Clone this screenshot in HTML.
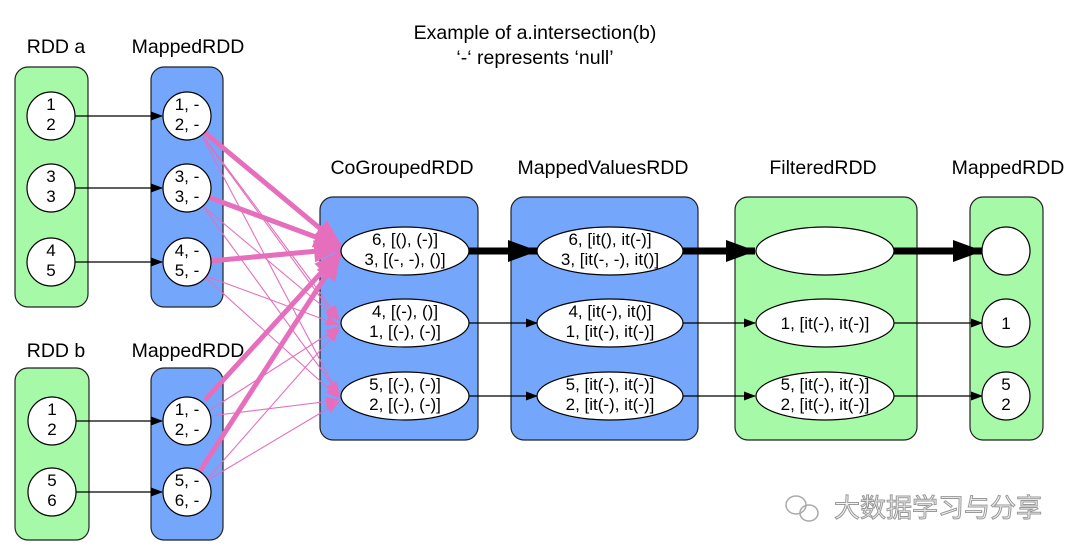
<!DOCTYPE html>
<html><head><meta charset="utf-8"><style>
html,body{margin:0;padding:0;background:#fff;}
svg{display:block;font-family:"Liberation Sans","Noto Sans CJK SC",sans-serif;}
</style></head><body>
<svg width="1080" height="554" viewBox="0 0 1080 554" xmlns="http://www.w3.org/2000/svg">
<defs>
<marker id="a" markerWidth="12" markerHeight="9" refX="11" refY="4.5" orient="auto" markerUnits="userSpaceOnUse"><path d="M0,0L12,4.5L0,9z" fill="#000"/></marker>
<marker id="ab" markerWidth="30" markerHeight="22" refX="29" refY="11" orient="auto" markerUnits="userSpaceOnUse"><path d="M0,0L30,11L0,22z" fill="#000"/></marker>
<marker id="p" markerWidth="14" markerHeight="10" refX="13" refY="5" orient="auto" markerUnits="userSpaceOnUse"><path d="M0,0L14,5L0,10z" fill="#e56fbd"/></marker>
<marker id="pb" markerWidth="28" markerHeight="22" refX="26" refY="11" orient="auto" markerUnits="userSpaceOnUse"><path d="M0,0L28,11L0,22z" fill="#e56fbd"/></marker>
</defs>
<g font-size="19.5" text-anchor="middle" fill="#000">
<text x="535" y="39">Example of a.intersection(b)</text>
<text x="535" y="64">‘-‘ represents ‘null’</text>
<text x="56" y="53">RDD a</text>
<text x="188" y="53">MappedRDD</text>
<text x="56" y="357">RDD b</text>
<text x="188" y="357">MappedRDD</text>
<text x="402" y="174">CoGroupedRDD</text>
<text x="603" y="174">MappedValuesRDD</text>
<text x="823" y="174">FilteredRDD</text>
<text x="1008" y="174">MappedRDD</text>
</g>
<g stroke="#222" stroke-width="1.2">
<rect x="15" y="67" width="73" height="240" rx="13" fill="#a6f9a6"/>
<rect x="151" y="67" width="72" height="240" rx="13" fill="#74a7fc"/>
<rect x="15" y="368" width="74" height="172" rx="13" fill="#a6f9a6"/>
<rect x="151" y="368" width="72" height="172" rx="13" fill="#74a7fc"/>
<rect x="320" y="197" width="158" height="243" rx="13" fill="#74a7fc"/>
<rect x="511" y="197" width="187" height="243" rx="13" fill="#74a7fc"/>
<rect x="735" y="197" width="182" height="243" rx="13" fill="#a6f9a6"/>
<rect x="970" y="197" width="73" height="243" rx="13" fill="#a6f9a6"/>
</g>
<g stroke="#000" stroke-width="1.3" fill="none">
<line x1="75" y1="116" x2="162" y2="116" marker-end="url(#a)"/>
<line x1="75" y1="188" x2="162" y2="188" marker-end="url(#a)"/>
<line x1="75" y1="262" x2="162" y2="262" marker-end="url(#a)"/>
<line x1="76" y1="421" x2="162" y2="421" marker-end="url(#a)"/>
<line x1="76" y1="492" x2="162" y2="492" marker-end="url(#a)"/>
<line x1="469" y1="323" x2="537" y2="323" marker-end="url(#a)"/>
<line x1="469" y1="396" x2="537" y2="396" marker-end="url(#a)"/>
<line x1="683" y1="323" x2="755" y2="323" marker-end="url(#a)"/>
<line x1="683" y1="396" x2="755" y2="396" marker-end="url(#a)"/>
<line x1="894" y1="323" x2="982" y2="323" marker-end="url(#a)"/>
<line x1="894" y1="396" x2="982" y2="396" marker-end="url(#a)"/>
<line x1="469" y1="251" x2="537" y2="251" stroke-width="7" marker-end="url(#ab)"/>
<line x1="683" y1="251" x2="755" y2="251" stroke-width="7" marker-end="url(#ab)"/>
<line x1="894" y1="251" x2="982" y2="251" stroke-width="7" marker-end="url(#ab)"/>
</g>
<g stroke="#e56fbd" stroke-width="1.1" fill="none" marker-end="url(#p)">
<line x1="203" y1="136" x2="339" y2="318"/>
<line x1="203" y1="138" x2="339" y2="396"/>
<line x1="206" y1="141" x2="337" y2="320"/>
<line x1="204" y1="207" x2="339" y2="320"/>
<line x1="204" y1="208" x2="339" y2="394"/>
<line x1="206" y1="276" x2="339" y2="325"/>
<line x1="206" y1="278" x2="339" y2="398"/>
<line x1="210" y1="410" x2="339" y2="327"/>
<line x1="210" y1="416" x2="339" y2="400"/>
<line x1="208" y1="478" x2="339" y2="329"/>
<line x1="208" y1="480" x2="339" y2="402"/>
</g>
<g stroke="#e56fbd" stroke-width="5" fill="none" marker-end="url(#pb)">
<line x1="204" y1="132" x2="340" y2="245"/>
<line x1="208" y1="197" x2="340" y2="246"/>
<line x1="210" y1="261" x2="340" y2="249"/>
<line x1="205" y1="400" x2="340" y2="252"/>
<line x1="200" y1="471" x2="340" y2="254"/>
</g>
<g stroke="#000" stroke-width="1.2" fill="#fff">
<circle cx="51" cy="116" r="24"/><circle cx="51" cy="188" r="24"/><circle cx="51" cy="262" r="24"/>
<circle cx="187" cy="116" r="24"/><circle cx="187" cy="188" r="24"/><circle cx="187" cy="262" r="24"/>
<circle cx="52" cy="421" r="24"/><circle cx="52" cy="492" r="24"/>
<circle cx="187" cy="421" r="24"/><circle cx="187" cy="492" r="24"/>
<ellipse cx="405" cy="251" rx="64" ry="24"/><ellipse cx="405" cy="323" rx="64" ry="24"/><ellipse cx="405" cy="396" rx="64" ry="24"/>
<ellipse cx="610" cy="251" rx="73" ry="24"/><ellipse cx="610" cy="323" rx="73" ry="24"/><ellipse cx="610" cy="396" rx="73" ry="24"/>
<ellipse cx="825" cy="251" rx="69" ry="24"/><ellipse cx="825" cy="323" rx="69" ry="24"/><ellipse cx="825" cy="396" rx="69" ry="24"/>
<circle cx="1006" cy="251" r="24"/><circle cx="1006" cy="323" r="24"/><circle cx="1006" cy="396" r="24"/>
</g>
<g font-size="17" text-anchor="middle" fill="#000">
<text x="51" y="110">1</text><text x="51" y="130">2</text>
<text x="51" y="182">3</text><text x="51" y="202">3</text>
<text x="51" y="256">4</text><text x="51" y="276">5</text>
<text x="52" y="415">1</text><text x="52" y="435">2</text>
<text x="52" y="486">5</text><text x="52" y="506">6</text>
<text x="187" y="110">1, -</text><text x="187" y="130">2, -</text>
<text x="187" y="182">3, -</text><text x="187" y="202">3, -</text>
<text x="187" y="256">4, -</text><text x="187" y="276">5, -</text>
<text x="187" y="415">1, -</text><text x="187" y="435">2, -</text>
<text x="187" y="486">5, -</text><text x="187" y="506">6, -</text>
<text x="405" y="245">6, [(), (-)]</text><text x="405" y="265">3, [(-, -), ()]</text>
<text x="405" y="317">4, [(-), ()]</text><text x="405" y="337">1, [(-), (-)]</text>
<text x="405" y="390">5, [(-), (-)]</text><text x="405" y="410">2, [(-), (-)]</text>
<text x="610" y="245">6, [it(), it(-)]</text><text x="610" y="265">3, [it(-, -), it()]</text>
<text x="610" y="317">4, [it(-), it()]</text><text x="610" y="337">1, [it(-), it(-)]</text>
<text x="610" y="390">5, [it(-), it(-)]</text><text x="610" y="410">2, [it(-), it(-)]</text>
<text x="825" y="329">1, [it(-), it(-)]</text>
<text x="825" y="390">5, [it(-), it(-)]</text><text x="825" y="410">2, [it(-), it(-)]</text>
<text x="1006" y="329">1</text>
<text x="1006" y="390">5</text><text x="1006" y="410">2</text>
</g>
<g fill="none" stroke="#aaa" stroke-width="1.5">
<ellipse cx="796" cy="505" rx="10" ry="9"/><ellipse cx="809" cy="513" rx="9" ry="8"/>
</g>
<text x="938" y="517" font-size="26" text-anchor="middle" fill="#f4f4f4" stroke="#999" stroke-width="1">大数据学习与分享</text>
</svg>
</body></html>
